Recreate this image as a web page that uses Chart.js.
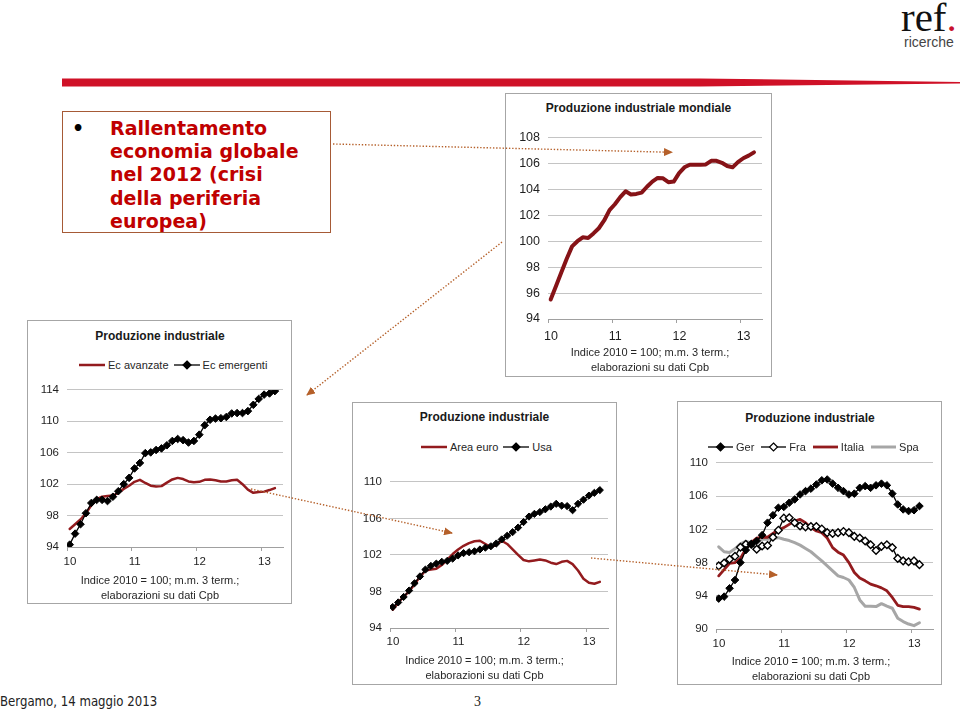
<!DOCTYPE html>
<html><head><meta charset="utf-8">
<script src="https://cdn.jsdelivr.net/npm/chart.js@4.4.0/dist/chart.umd.min.js"></script>
<style>
html,body{margin:0;padding:0;background:#fff;}
body{width:960px;height:710px;position:relative;overflow:hidden;font-family:"Liberation Sans",Arial,sans-serif;}
.abs{position:absolute;}
.box{position:absolute;border:1px solid #a6a6a6;box-sizing:border-box;background:#fff;z-index:1;}
canvas{position:absolute;z-index:2;}
.ctitle{position:absolute;font-weight:bold;font-size:12px;line-height:14px;color:#1a1a1a;white-space:nowrap;transform:translate(-50%,-50%);z-index:3;}
.note{position:absolute;font-size:11px;line-height:15px;color:#262626;text-align:center;white-space:nowrap;transform:translateX(-50%);z-index:3;}
.legend{position:absolute;display:flex;align-items:center;height:14px;font-size:11px;color:#262626;white-space:nowrap;z-index:3;}
.legend svg{display:block;}
</style></head>
<body>

<!-- logo -->
<div class="abs" style="left:901px;top:-3px;font-family:'Liberation Serif','DejaVu Serif',serif;font-size:41px;line-height:41px;color:#111;">ref<span style="color:#c8102e">.</span></div>
<div class="abs" style="left:904px;top:35px;font-family:'Liberation Sans',Arial,sans-serif;font-size:14px;line-height:14px;color:#444;">ricerche</div>

<!-- text box -->
<div class="abs" style="left:62px;top:111px;width:269px;height:122px;box-sizing:border-box;border:1.5px solid #a65a36;"></div>
<div class="abs" style="left:72px;top:117px;font-family:'DejaVu Sans',sans-serif;font-weight:bold;font-size:19px;line-height:23.2px;color:#000;">•</div>
<div class="abs" style="left:110px;top:117px;font-family:'DejaVu Sans',sans-serif;font-weight:bold;font-size:19px;line-height:23.2px;color:#c00000;white-space:nowrap;">Rallentamento<br>economia globale<br>nel 2012 (crisi<br>della periferia<br>europea)</div>

<!-- chart boxes -->
<div class="box" style="left:505px;top:93px;width:267px;height:284px;"></div>
<div class="box" style="left:27px;top:320px;width:265px;height:284px;"></div>
<div class="box" style="left:352px;top:402px;width:265px;height:283px;"></div>
<div class="box" style="left:677px;top:401px;width:265px;height:284px;"></div>

<canvas id="c1"></canvas>
<canvas id="c2"></canvas>
<canvas id="c3"></canvas>
<canvas id="c4"></canvas>

<div class="ctitle" style="left:638.5px;top:108px;">Produzione industriale mondiale</div>
<div class="ctitle" style="left:160px;top:336px;">Produzione industriale</div>
<div class="ctitle" style="left:484.5px;top:417px;">Produzione industriale</div>
<div class="ctitle" style="left:810px;top:418px;">Produzione industriale</div>

<div class="note" style="left:650px;top:344.5px;">Indice 2010 = 100; m.m. 3 term.;<br>elaborazioni su dati Cpb</div>
<div class="note" style="left:160px;top:572.5px;">Indice 2010 = 100; m.m. 3 term.;<br>elaborazioni su dati Cpb</div>
<div class="note" style="left:484.5px;top:653px;">Indice 2010 = 100; m.m. 3 term.;<br>elaborazioni su dati Cpb</div>
<div class="note" style="left:811px;top:654px;">Indice 2010 = 100; m.m. 3 term.;<br>elaborazioni su dati Cpb</div>

<!-- footer -->
<div class="abs" style="left:0;top:693px;font-family:'DejaVu Sans',sans-serif;font-size:14px;line-height:16px;color:#222;white-space:nowrap;transform:scaleX(0.84);transform-origin:0 0;">Bergamo, 14 maggio 2013</div>
<div class="abs" style="left:474px;top:694px;font-family:'Liberation Serif',serif;font-size:14px;line-height:16px;color:#222;">3</div>

<!-- decorations: red bar and dotted arrows -->
<svg class="abs" style="left:0;top:0;z-index:5;pointer-events:none" width="960" height="710">
  <defs>
    <marker id="ah" markerWidth="9" markerHeight="8" refX="8" refY="4" orient="auto" markerUnits="userSpaceOnUse">
      <path d="M0,0 L9,4 L0,8 z" fill="#b5602a"/>
    </marker>
  </defs>
  <polygon points="62,78.5 700,78.5 960,82 960,83.5 700,86.5 62,86.5" fill="#cf1127"/>
  <g stroke="#b5602a" stroke-width="1.4" stroke-dasharray="1.4 1.8" fill="none">
    <line x1="333" y1="144" x2="672" y2="152.3" marker-end="url(#ah)"/>
    <line x1="502" y1="242" x2="307" y2="395" marker-end="url(#ah)"/>
    <line x1="251" y1="489" x2="452" y2="533" marker-end="url(#ah)"/>
    <line x1="591" y1="558" x2="777" y2="575" marker-end="url(#ah)"/>
  </g>
</svg>

<script>
// ---------------- data (monthly, Jan 2010 onwards) ----------------
const yearLabels = ['10', '11', '12', '13'];

// Produzione industriale mondiale
const worldProd = [95.5, 96.55, 97.6, 98.65, 99.6, 100.0, 100.3, 100.25, 100.6, 101.0,
  101.6, 102.4, 102.85, 103.4, 103.85, 103.6, 103.65, 103.75, 104.2, 104.6,
  104.88, 104.85, 104.55, 104.6, 105.25, 105.7, 105.9, 105.9, 105.9, 105.92,
  106.2, 106.2, 106.05, 105.8, 105.7, 106.1, 106.4, 106.6, 106.85];

// Ec avanzate / Ec emergenti
const advNames = ['Ec avanzate', 'Ec emergenti'];
const advEcon = [96.3, 96.9, 97.5, 98.3, 99.3, 100.1, 100.4, 100.5, 100.55, 100.9,
  101.4, 101.8, 102.3, 102.55, 102.15, 101.8, 101.7, 101.75, 102.2, 102.6,
  102.8, 102.65, 102.35, 102.25, 102.3, 102.55, 102.6, 102.5, 102.35, 102.35,
  102.5, 102.55, 102.0, 101.3, 100.9, 101.0, 101.05, 101.25, 101.5];
const emergEcon = [94.3, 95.7, 96.9, 98.3, 99.6, 100.0, 100.0, 99.85, 100.4, 101.1,
  102.0, 102.8, 104.0, 104.7, 105.95, 106.05, 106.35, 106.55, 106.95, 107.5,
  107.75, 107.6, 107.3, 107.5, 108.3, 109.5, 110.2, 110.35, 110.4, 110.55,
  111.0, 111.05, 111.05, 111.3, 112.1, 112.85, 113.4, 113.55, 113.85];

// Area euro / Usa
const euUsNames = ['Area euro', 'Usa'];
const euroArea = [96.0, 96.8, 97.4, 98.0, 98.8, 99.6, 100.3, 100.4, 100.5, 100.9,
  101.5, 102.1, 102.6, 103.0, 103.3, 103.5, 103.55, 103.2, 102.85, 103.1,
  103.55, 103.2, 102.6, 102.0, 101.45, 101.3, 101.4, 101.5, 101.4, 101.15,
  101.0, 101.25, 101.35, 101.0, 100.3, 99.4, 98.95, 98.85, 99.05];
const usa = [96.3, 96.8, 97.4, 98.1, 98.9, 99.65, 100.4, 100.8, 101.05, 101.25,
  101.35, 101.6, 101.95, 102.2, 102.3, 102.4, 102.6, 102.8, 102.95, 103.25,
  103.7, 104.1, 104.5, 105.0, 105.6, 106.2, 106.5, 106.7, 107.0, 107.3,
  107.6, 107.4, 107.35, 106.9, 107.6, 108.05, 108.5, 108.8, 109.1];

// Ger / Fra / Italia / Spa
const ctryNames = ['Ger', 'Fra', 'Italia', 'Spa'];
const germany = [93.66, 93.9, 94.9, 95.9, 98.0, 99.5, 100.2, 100.6, 101.3, 102.8,
  103.7, 104.6, 104.7, 105.2, 105.6, 106.2, 106.6, 106.9, 107.4, 107.9,
  108.0, 107.5, 107.0, 106.6, 106.2, 106.3, 107.0, 107.2, 107.0, 107.3,
  107.5, 107.3, 106.3, 105.0, 104.4, 104.2, 104.3, 104.8];
const france = [97.6, 97.95, 98.4, 98.75, 99.85, 100.2, 100.2, 99.6, 100.0, 100.05,
  101.05, 101.9, 103.35, 103.4, 102.8, 102.4, 102.3, 102.35, 102.35, 102.05,
  101.6, 101.5, 101.6, 101.75, 101.6, 101.15, 100.95, 100.6, 100.15, 99.45,
  99.95, 100.15, 99.8, 98.5, 98.2, 98.1, 98.2, 97.75];
const italy = [96.4, 97.15, 97.9, 98.0, 98.5, 99.65, 100.4, 100.95, 101.05, 101.05,
  101.5, 101.95, 102.2, 102.6, 103.0, 103.2, 102.8, 102.2, 101.8, 101.6,
  100.95, 99.8, 99.25, 98.9, 98.0, 96.8, 96.15, 95.8, 95.4, 95.2,
  94.95, 94.6, 93.8, 92.85, 92.7, 92.7, 92.6, 92.4];
const spain = [99.9, 99.3, 99.2, 99.65, 100.25, 100.55, 100.4, 100.6, 100.8, 100.8,
  100.9, 101.0, 100.8, 100.65, 100.4, 100.1, 99.7, 99.3, 98.75, 98.2,
  97.6, 97.0, 96.4, 96.2, 95.9, 95.0, 93.5, 92.75, 92.75, 92.7,
  93.05, 92.75, 92.5, 91.3, 90.9, 90.6, 90.4, 90.75];

// ---------------- styles ----------------
const RED = '#861317', RED2 = '#931b1e', BLACK = '#000', GRAY = '#a6a6a6';
Chart.defaults.font.family = "'Liberation Sans', Arial, sans-serif";
Chart.defaults.color = '#262626';

const toPts = arr => arr.map((v, i) => ({ x: i, y: v }));
const yearTicks = yearLabels.map((_, k) => k * 12 - 0.5);

const WY = 40, PT = 10, PR = 8, HX = 28;
function lineChart(id, plot, y, datasets, fs, xPad) {
  const cv = document.getElementById(id);
  cv.width = plot.r - plot.l + WY + PR;
  cv.height = plot.b - plot.t + PT + HX;
  cv.style.left = (plot.l - WY) + 'px';
  cv.style.top = (plot.t - PT) + 'px';
  return new Chart(cv, {
    type: 'line',
    data: { datasets },
    options: {
      responsive: false, animation: false, devicePixelRatio: 1,
      layout: { padding: { top: PT, right: PR, left: 0, bottom: 0 } },
      plugins: { legend: { display: false }, tooltip: { enabled: false }, title: { display: false } },
      elements: { line: { tension: 0, borderJoinStyle: 'round', borderCapStyle: 'round' } },
      scales: {
        x: {
          type: 'linear', min: -0.5, max: 39.5,
          afterBuildTicks: s => { s.ticks = yearTicks.map(v => ({ value: v })); },
          afterFit: s => { s.height = HX; },
          grid: { drawOnChartArea: false, drawTicks: true, tickLength: 4, color: '#a0a0a0' },
          border: { display: true, color: '#a0a0a0' },
          ticks: { autoSkip: false, maxRotation: 0, labelOffset: 3, padding: xPad,
                   font: { size: fs }, color: '#1f1f1f',
                   callback: (v, i) => yearLabels[i] }
        },
        y: {
          min: y.min, max: y.max,
          afterFit: s => { s.width = WY; },
          ticks: { stepSize: y.step, padding: 8, font: { size: fs }, color: '#1f1f1f' },
          grid: { color: '#c4c4c4', drawTicks: false },
          border: { display: false }
        }
      }
    }
  });
}

function markerSet(data, fill, r) {
  return { data: toPts(data), borderColor: BLACK, borderWidth: 1.3, pointStyle: 'rectRot',
           pointRadius: r, pointBackgroundColor: fill, pointBorderColor: BLACK,
           pointBorderWidth: fill === '#fff' ? 1.4 : 1, fill: false };
}
function plainSet(data, color, w) {
  return { data: toPts(data), borderColor: color, borderWidth: w, pointRadius: 0, fill: false };
}

lineChart('c1', { l: 548, t: 132, r: 762, b: 319 }, { min: 94, max: 108, step: 2 },
  [plainSet(worldProd, RED, 4)], 12.5, 6);

lineChart('c2', { l: 67, t: 385, r: 283, b: 547 }, { min: 94, max: 114, step: 4 },
  [markerSet(emergEcon, BLACK, 3.8), plainSet(advEcon, RED2, 2.5)], 11.5, 4);

lineChart('c3', { l: 390, t: 477, r: 608, b: 628 }, { min: 94, max: 110, step: 4 },
  [markerSet(usa, BLACK, 3.6), plainSet(euroArea, RED2, 2.5)], 11.5, 3);

lineChart('c4', { l: 716, t: 458, r: 933, b: 629 }, { min: 90, max: 110, step: 4 },
  [markerSet(germany, BLACK, 3.8), markerSet(france, '#fff', 3.8),
   plainSet(italy, RED2, 2.8), plainSet(spain, GRAY, 3)], 11.5, 4);

// ---------------- legends (HTML) ----------------
const NS = 'http://www.w3.org/2000/svg';
function legend(left, cy, items, symW, gap) {
  const d = document.createElement('div');
  d.className = 'legend';
  d.style.left = left + 'px';
  d.style.top = (cy - 7) + 'px';
  items.forEach((it, k) => {
    const s = document.createElementNS(NS, 'svg');
    s.setAttribute('width', symW); s.setAttribute('height', 14);
    const ln = document.createElementNS(NS, 'line');
    ln.setAttribute('x1', 0); ln.setAttribute('x2', symW);
    ln.setAttribute('y1', 7); ln.setAttribute('y2', 7);
    ln.setAttribute('stroke', it.color); ln.setAttribute('stroke-width', it.w);
    s.appendChild(ln);
    if (it.marker) {
      const c = symW / 2, r = 4;
      const p = document.createElementNS(NS, 'polygon');
      p.setAttribute('points', `${c},${7 - r} ${c + r},7 ${c},${7 + r} ${c - r},7`);
      p.setAttribute('fill', it.marker);
      p.setAttribute('stroke', '#000'); p.setAttribute('stroke-width', 1.2);
      s.appendChild(p);
    }
    d.appendChild(s);
    const t = document.createElement('span');
    t.textContent = it.label;
    t.style.margin = `0 ${k < items.length - 1 ? gap : 0}px 0 3px`;
    d.appendChild(t);
  });
  document.body.appendChild(d);
}
legend(79, 365, [
  { label: advNames[0], color: RED2, w: 2.5 },
  { label: advNames[1], color: BLACK, w: 1.3, marker: '#000' }], 26, 5);
legend(421, 446.5, [
  { label: euUsNames[0], color: RED2, w: 2.5 },
  { label: euUsNames[1], color: BLACK, w: 1.3, marker: '#000' }], 26, 5);
legend(708, 446.5, [
  { label: ctryNames[0], color: BLACK, w: 1.3, marker: '#000' },
  { label: ctryNames[1], color: BLACK, w: 1.3, marker: '#fff' },
  { label: ctryNames[2], color: RED2, w: 2.8 },
  { label: ctryNames[3], color: GRAY, w: 3 }], 25, 7);
</script>
</body></html>
